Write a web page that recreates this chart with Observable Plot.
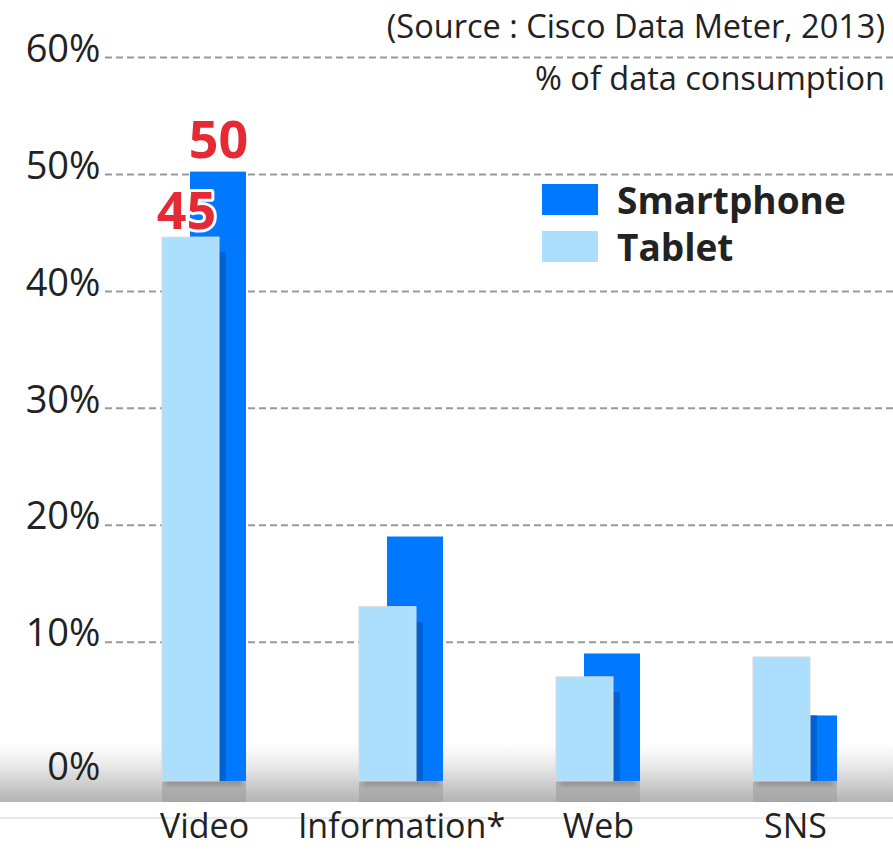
<!DOCTYPE html>
<html><head><meta charset="utf-8">
<script src="https://cdn.jsdelivr.net/npm/d3@7"></script>
<script src="https://cdn.jsdelivr.net/npm/@observablehq/plot@0.6"></script>
<style>
body{margin:0;background:#fff;font-family:"Open Sans",sans-serif;color:#222;}
#wrap{position:relative;width:893px;height:850px;overflow:hidden;}
.note{position:absolute;right:8px;font-size:32.5px;white-space:nowrap;line-height:1;}
.legend{position:absolute;left:542px;top:176px;}
.legend .row{display:flex;align-items:center;height:47px;}
.legend .sw{width:56px;height:31px;margin-right:19px;}
.legend .lab{font-size:37px;font-weight:700;line-height:1;}
</style></head><body>
<svg width="0" height="0" style="position:absolute">
<defs>
<linearGradient id="band" x1="0" y1="0" x2="0" y2="1">
<stop offset="0" stop-color="#ffffff"/>
<stop offset="0.35" stop-color="#ececec"/>
<stop offset="1" stop-color="#b3b3b3"/>
</linearGradient>
<filter id="blur" x="-20%" y="-200%" width="140%" height="500%"><feGaussianBlur stdDeviation="2.5"/></filter>
</defs></svg>
<div id="wrap"></div>
<script>
const categories = ["Video", "Information*", "Web", "SNS"];
const smartphone = [50.2, 19, 9, 3.7];
const tablet = [44.6, 13, 7, 8.7];
const yTicks = [0, 10, 20, 30, 40, 50, 60];
const seriesNames = ["Smartphone", "Tablet"];
const seriesColors = ["#0078ff", "#acdefd"];
const valueLabels = [
  {category: "Video", series: "Smartphone", value: 50.2},
  {category: "Video", series: "Tablet", value: 44.6}
];
const sourceText = "(Source : Cisco Data Meter, 2013)";
const unitText = "% of data consumption";

const data = categories.map((c, i) => ({category: c, smartphone: smartphone[i], tablet: tablet[i]}));
const base = -1.9;   // bars rest slightly below the 0% level
const floor = -3.7;  // bottom of the grey floor band

const band = (index, scales, values, dims) => {
  const g = d3.create("svg:g");
  const y0 = scales.y(1.35), y1 = scales.y(floor);
  g.append("rect").attr("x", 0).attr("width", dims.width).attr("y", y0).attr("height", y1 - y0).attr("fill", "url(#band)");
  g.append("line").attr("x1", 0).attr("x2", dims.width).attr("y1", y1 + 16).attr("y2", y1 + 16).attr("stroke", "#e2e2e2").attr("stroke-width", 1.5);
  return g.node();
};
const baseShadow = (index, scales, values, dims) => {
  const g = d3.create("svg:g");
  const bw = scales.x.bandwidth();
  for (const c of categories) {
    g.append("rect").attr("x", scales.x(c) + 4).attr("width", bw - 8)
      .attr("y", scales.y(base) - 1).attr("height", 5).attr("fill", "#555").attr("opacity", 0.45).attr("filter", "url(#blur)");
  }
  return g.node();
};
const labelStyle = {lineAnchor: "bottom", fontSize: 52, fontWeight: 700, fill: "#e52a35", stroke: "white", strokeWidth: 6, paintOrder: "stroke"};

const chart = Plot.plot({
  width: 893,
  height: 850,
  marginTop: 57,
  marginBottom: 48,
  marginLeft: 105,
  marginRight: 0,
  style: {fontFamily: "Open Sans, sans-serif", color: "#222", background: "transparent", overflow: "visible"},
  x: {type: "band", domain: categories, paddingInner: 0.574, paddingOuter: 0.287, axis: null},
  y: {domain: [floor, 60], axis: null},
  marks: [
    band,
    Plot.gridY(yTicks.filter(d => d > 0), {stroke: "#999", strokeOpacity: 1, strokeWidth: 2, strokeDasharray: "7,4"}),
    Plot.text(yTicks.filter(d => d > 0), {y: d => d, text: d => d + "%", frameAnchor: "left", textAnchor: "end", dx: -5, dy: -8, fontSize: 38, fill: "#222"}),
    Plot.text(yTicks.filter(d => d === 0), {y: d => d, text: d => d + "%", frameAnchor: "left", textAnchor: "end", dx: -5, dy: 9, fontSize: 38, fill: "#222"}),
    Plot.barY(data, {x: "category", y1: base, y2: floor, fill: "#9a9a9a", fillOpacity: 0.55}),
    baseShadow,
    Plot.barY(data, {x: "category", y1: base, y2: "smartphone", insetLeft: 28, fill: seriesColors[0]}),
    Plot.barY(data, {x: "category", y1: base, y2: d => Math.min(d.tablet - 1.3, d.smartphone), insetLeft: 57, insetRight: 20, fill: "#0062d2"}),
    Plot.barY(data, {x: "category", y1: base, y2: "tablet", insetRight: 27, fill: seriesColors[1], stroke: "#d9d9d9", strokeWidth: 1}),
    Plot.text(valueLabels.filter(d => d.series === "Smartphone"), {x: "category", y: "value", text: d => String(Math.round(d.value)), dx: 14, dy: -14, ...labelStyle}),
    Plot.text(valueLabels.filter(d => d.series === "Tablet"), {x: "category", y: "value", text: d => String(Math.round(d.value)), dx: -18, dy: -9, ...labelStyle}),
    Plot.text(categories, {x: d => d, frameAnchor: "bottom", lineAnchor: "middle", dy: 25, fontSize: 34, fill: "#222"})
  ]
});

const wrap = document.getElementById("wrap");
wrap.appendChild(chart);
const s = document.createElement("div"); s.className = "note"; s.style.top = "10px"; s.textContent = sourceText; wrap.appendChild(s);
const u = document.createElement("div"); u.className = "note"; u.style.top = "62px"; u.textContent = unitText; wrap.appendChild(u);
const lg = document.createElement("div"); lg.className = "legend";
seriesNames.forEach((n, i) => {
  const r = document.createElement("div"); r.className = "row";
  const sw = document.createElement("div"); sw.className = "sw"; sw.style.background = seriesColors[i];
  const lb = document.createElement("div"); lb.className = "lab"; lb.textContent = n;
  r.appendChild(sw); r.appendChild(lb); lg.appendChild(r);
});
wrap.appendChild(lg);
</script>
</body></html>
